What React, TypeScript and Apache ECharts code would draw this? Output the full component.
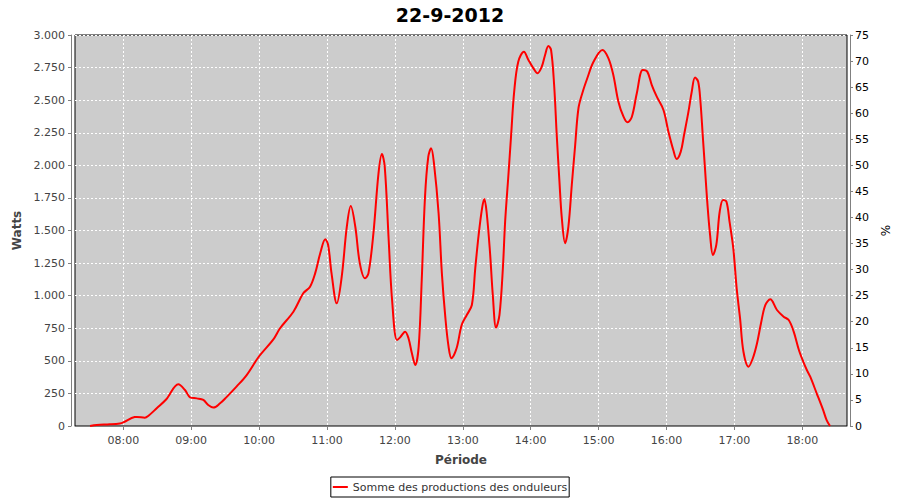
import React, { useEffect, useRef } from "react";
import * as echarts from "echarts";

const periodMinutes = [
  450.6, 456.5, 468, 477, 480, 490, 492, 499, 502, 509.5, 518, 528.6, 534.5, 539, 545, 550.7, 555, 559.5, 565.5, 571,
  580, 589, 600, 612.6, 618.5, 630.3, 639, 645, 649.5, 654, 658.5, 661, 664, 668.6, 673, 677.5, 681, 685, 689, 693.6,
  696.6, 701, 705.5, 708.5, 711, 714.5, 717.5, 721.8, 724.6, 729, 732, 735, 738, 741, 743.7, 746.6, 749.5, 752, 754.5,
  758.6, 761.5, 764.5, 767.4, 770, 774.5, 779, 783.5, 788, 791, 794, 797, 799, 801, 804, 806.5, 809.4, 812.4, 815.4,
  817.4, 820.3, 822.7, 825.4, 829, 834, 838, 842.4, 846, 849.8, 852.7, 855.6, 858, 860.7, 863, 865.4, 867.5, 870.4,
  873.3, 876.3, 879.3, 882.2, 886, 890, 895.5, 903.4, 908.7, 913, 917.5, 922, 925.5, 929.4, 933.8, 939, 943, 947,
  951.4, 957.3, 961.7, 966, 969, 972.6, 975.5, 979.4, 982.3, 985.2, 988, 990, 992, 994, 996, 998.5, 1001, 1004, 1007,
  1010, 1013, 1015.7, 1019, 1022, 1025, 1028, 1032.5, 1036.3, 1040, 1043.5, 1047.3, 1051.7, 1057.6, 1063.5, 1068,
  1072.4, 1077, 1081, 1084, 1087, 1092.7, 1098.6, 1101.5, 1104.5,
];

const wattsValues = [
  0, 8, 13, 20, 28, 69, 70, 64, 77, 136, 205, 320, 276, 220, 212, 200, 161, 141, 174, 220,
  302, 391, 535, 665, 750, 877, 1018, 1069, 1171, 1325, 1432, 1389, 1171, 941, 1146, 1529, 1688, 1529, 1248, 1133,
  1171, 1478, 1939, 2087, 1990, 1427, 967, 660, 680, 724, 673, 558, 468, 609, 1120, 1759, 2066, 2131, 2016,
  1632, 1171, 839, 609, 520, 596, 775, 852, 928, 1210, 1466, 1670, 1742, 1644, 1337, 1005, 754, 852, 1210,
  1568, 1926, 2233, 2565, 2795, 2872, 2808, 2744, 2706, 2757, 2847, 2916, 2885, 2616, 2233, 1875, 1594, 1402,
  1529, 1849, 2156, 2438, 2565, 2668, 2795, 2885, 2821, 2693, 2488, 2373, 2330, 2373, 2555, 2731, 2719, 2616,
  2527, 2425, 2258, 2118, 2049, 2105, 2233, 2412, 2565, 2673, 2642, 2488, 2233, 1977, 1721, 1466, 1312, 1389, 1644,
  1734, 1721, 1568, 1364, 1057, 826, 570, 455, 520, 635, 788, 928, 972, 890, 839, 813,
  724, 583, 490, 430, 378, 251, 118, 45, 0,
];

const hourTicks = [480, 540, 600, 660, 720, 780, 840, 900, 960, 1020, 1080];

const chartTitle = "22-9-2012";
const seriesName = "Somme des productions des onduleurs";

export default function App() {
  const ref = useRef<HTMLDivElement>(null);
  useEffect(() => {
    const chart = echarts.init(ref.current!, null, { renderer: "svg" });
    const fmtW = (v: number) =>
      v >= 1000 ? `${Math.floor(v / 1000)}.${String(v % 1000).padStart(3, "0")}` : String(v);
    const fmtT = (v: number) =>
      `${String(Math.floor(v / 60)).padStart(2, "0")}:${String(Math.round(v % 60)).padStart(2, "0")}`;
    const font = "DejaVu Sans";
    const grid = { type: [2, 2] as any, color: "#ffffff", width: 1 };
    chart.setOption({
      animation: false,
      backgroundColor: "#ffffff",
      title: {
        text: chartTitle,
        left: "center",
        top: 0,
        textStyle: { fontFamily: font, fontWeight: "bold", fontSize: 19, color: "#000" },
      },
      legend: {
        data: [{ name: seriesName, icon: "path://M0,0L0,0M0,6L15,6L15,8L0,8ZM15,14L15,14" }],
        left: "center",
        top: 477,
        padding: [3, 2, 3, 2],
        itemWidth: 15,
        itemHeight: 14,
        borderColor: "#000",
        borderWidth: 1,
        textStyle: { fontFamily: font, fontSize: 11, color: "#333" },
      },
      grid: {
        left: 75,
        right: 53,
        top: 35,
        bottom: 74,
        show: true,
        backgroundColor: "#cccccc",
        borderColor: "#000",
        borderWidth: 1,
      },
      xAxis: {
        type: "value",
        min: 437.3,
        max: 1119.5,
        offset: 3,
        name: "Période",
        nameLocation: "middle",
        nameGap: 25,
        nameTextStyle: { fontFamily: font, fontWeight: "bold", fontSize: 12, color: "#444" },
        axisLine: { show: true, lineStyle: { color: "#808080" } },
        axisTick: { show: true, length: 4, customValues: hourTicks, lineStyle: { color: "#808080" } },
        axisLabel: {
          customValues: hourTicks,
          formatter: (v: number) => fmtT(v),
          fontFamily: font,
          fontSize: 11,
          color: "#444",
          margin: 6,
        },
        splitLine: { show: true, lineStyle: grid },
      },
      yAxis: [
        {
          type: "value",
          min: 0,
          max: 3000,
          interval: 250,
          offset: 4,
          name: "Watts",
          nameLocation: "middle",
          nameRotate: 90,
          nameGap: 37,
          nameTextStyle: { fontFamily: font, fontWeight: "bold", fontSize: 12, color: "#444" },
          axisLine: { show: true, lineStyle: { color: "#808080" } },
          axisTick: { show: true, length: 3, lineStyle: { color: "#808080" } },
          axisLabel: {
            formatter: (v: number) => fmtW(v),
            fontFamily: font,
            fontSize: 11,
            color: "#444",
            margin: 6,
          },
          splitLine: { show: true, lineStyle: grid },
        },
        {
          type: "value",
          position: "right",
          min: 0,
          max: 75,
          interval: 5,
          offset: 3,
          name: "%",
          nameLocation: "middle",
          nameRotate: 90,
          nameGap: 24,
          nameTextStyle: { fontFamily: font, fontSize: 12, color: "#000" },
          axisLine: { show: true, lineStyle: { color: "#808080" } },
          axisTick: { show: true, length: 3, lineStyle: { color: "#808080" } },
          axisLabel: { fontFamily: font, fontSize: 11, color: "#000", margin: 5 },
          splitLine: { show: false },
        },
      ],
      series: [
        {
          name: seriesName,
          type: "line",
          yAxisIndex: 0,
          data: periodMinutes.map((t, i) => [t, wattsValues[i]]),
          symbol: "none",
          smooth: 0.35,
          lineStyle: { color: "#ff0000", width: 2 },
          itemStyle: { color: "#ff0000" },
        },
      ],
    });
    return () => chart.dispose();
  }, []);
  return (
    <div
      ref={ref}
      style={{ position: "fixed", left: 0, top: 0, width: 900, height: 500, background: "#fff" }}
    />
  );
}
